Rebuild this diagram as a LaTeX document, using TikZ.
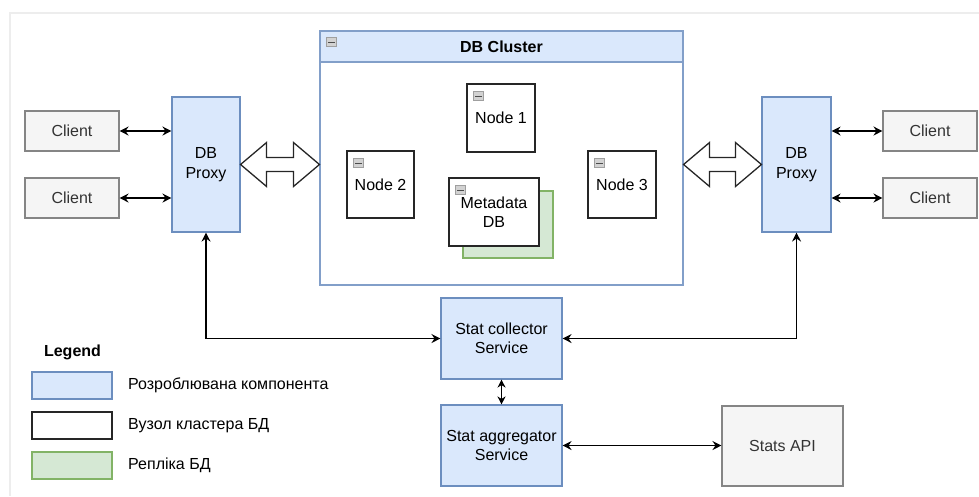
\documentclass[tikz,border=0pt]{standalone}
\usepackage{fontspec}
\setmainfont{Liberation Sans}
\usetikzlibrary{arrows.meta,positioning,calc}
\definecolor{bluefill}{HTML}{DAE8FC}
\definecolor{bluedraw}{HTML}{6C8EBF}
\definecolor{grayfill}{HTML}{F5F5F5}
\definecolor{graydraw}{HTML}{666666}
\definecolor{greenfill}{HTML}{D5E8D4}
\definecolor{greendraw}{HTML}{82B366}
\definecolor{txtgray}{HTML}{333333}
\definecolor{framegray}{HTML}{EDEDED}
\begin{document}
\begin{tikzpicture}[x=1pt,y=-1pt,
  every node/.style={font=\fontsize{16}{19.5}\selectfont, inner sep=0pt, align=center},
  box/.style={rectangle, line width=1.1pt},
  bluebox/.style={box, draw=bluedraw, fill=bluefill},
  graybox/.style={box, draw=graydraw!80, fill=grayfill, text=txtgray},
  nodebox/.style={box, draw=black!85, fill=white, line width=1.3pt},
  greenbox/.style={box, draw=greendraw, fill=greenfill},
  conn/.style={line width=1.3pt, {Stealth[length=9pt,width=9pt,inset=3pt]}-{Stealth[length=9pt,width=9pt,inset=3pt]}},
  shortconn/.style={line width=1.3pt, {Stealth[length=8pt,width=8pt,inset=2.5pt]}-{Stealth[length=8pt,width=8pt,inset=2.5pt]}},
  hollow/.style={draw=black!85, fill=white, line width=1.3pt, line join=miter},
  icon/.style={draw=gray!75, fill=gray!35, line width=0.6pt, minimum width=10pt, minimum height=9pt},
]
\useasboundingbox (0,0) rectangle (979,496);
% screenshot frame
\draw[framegray, line width=1.2pt] (10,496) -- (10,13) -- (979,13);

% clients
\node[graybox, minimum width=94pt, minimum height=40pt] (c1L) at (72,131) {Client};
\node[graybox, minimum width=94pt, minimum height=40pt] (c2L) at (72,198) {Client};
\node[graybox, minimum width=94pt, minimum height=40pt] (c1R) at (930,131) {Client};
\node[graybox, minimum width=94pt, minimum height=40pt] (c2R) at (930,198) {Client};

% proxies
\node[bluebox, minimum width=68pt, minimum height=135pt] (pL) at (206,164.5) {DB\\Proxy};
\node[bluebox, minimum width=69pt, minimum height=135pt] (pR) at (796.5,164.5) {DB\\Proxy};

% cluster
\node[box, draw=bluedraw!85, fill=white, minimum width=363pt, minimum height=254pt] (cl) at (501.5,158) {};
\node[box, draw=bluedraw!85, fill=bluefill, minimum width=363pt, minimum height=31pt, anchor=north, font=\fontsize{16}{19.5}\selectfont\bfseries] (clh) at (cl.north) {DB Cluster};
\node[icon, anchor=north west] (iclh) at ($(clh.north west)+(7,7)$) {};
\draw[black!70, line width=1pt] ($(iclh.west)+(2,0)$) -- ($(iclh.east)+(-2,0)$);

\node[nodebox, minimum width=68pt, minimum height=68pt] (n1) at (501,118) {Node 1};
\node[nodebox, minimum width=67pt, minimum height=67pt] (n2) at (380.5,184.5) {Node 2};
\node[nodebox, minimum width=68pt, minimum height=67pt] (n3) at (622,184.5) {Node 3};
\node[greenbox, minimum width=90pt, minimum height=67pt] (sh) at (508,224.5) {};
\node[nodebox, minimum width=90pt, minimum height=68pt] (md) at (494,212) {Metadata\\DB};

\foreach \n in {n1,n2,n3,md}{
  \node[icon, anchor=north west] (i\n) at ($(\n.north west)+(7,8)$) {};
  \draw[black!70, line width=1pt] ($(i\n.west)+(2,0)$) -- ($(i\n.east)+(-2,0)$);
}

% hollow double arrows
\coordinate (hl) at (pL.east);
\coordinate (hr) at (cl.west |- pL.east);
\draw[hollow] (hl) -- ++(26,-22) -- ++(0,15) -- ($(hr)+(-26,-7)$) -- ++(0,-15) -- (hr)
  -- ++(-26,22) -- ++(0,-15) -- ($(hl)+(26,7)$) -- ++(0,15) -- cycle;
\coordinate (hl2) at (cl.east |- pR.west);
\coordinate (hr2) at (pR.west);
\draw[hollow] (hl2) -- ++(26,-22) -- ++(0,15) -- ($(hr2)+(-26,-7)$) -- ++(0,-15) -- (hr2)
  -- ++(-26,22) -- ++(0,-15) -- ($(hl2)+(26,7)$) -- ++(0,15) -- cycle;

% services
\node[bluebox, minimum width=121pt, minimum height=81pt] (sc) at (501.5,338.5) {Stat collector\\Service};
\node[bluebox, minimum width=121pt, minimum height=81pt] (sa) at (501.5,445.5) {Stat aggregator\\Service};
\node[graybox, minimum width=121pt, minimum height=80pt] (api) at (782.5,446) {Stats API};

% connectors
\draw[conn] (c1L.east) -- (c1L.east -| pL.west);
\draw[conn] (c2L.east) -- (c2L.east -| pL.west);
\draw[conn] (c1R.west) -- (c1R.west -| pR.east);
\draw[conn] (c2R.west) -- (c2R.west -| pR.east);
\draw[conn] (pL.south) |- (sc.west);
\draw[conn] (pR.south) |- (sc.east);
\draw[shortconn] (sc.south) -- (sa.north);
\draw[conn] (sa.east) -- (sa.east -| api.west);

% legend
\node[font=\fontsize{16}{19.5}\selectfont\bfseries] (lgt) at (72.5,352) {Legend};
\node[bluebox, minimum width=80pt, minimum height=27pt] (lg1) at (72,385.5) {};
\node[nodebox, minimum width=80pt, minimum height=27pt] (lg2) at (72,425.5) {};
\node[greenbox, minimum width=80pt, minimum height=27pt] (lg3) at (72,465.5) {};
\node[anchor=west] (lt1) at (128,385.5) {Розроблювана компонента};
\node[anchor=west] (lt2) at (128,425.5) {Вузол кластера БД};
\node[anchor=west] (lt3) at (128,465.5) {Репліка БД};
\end{tikzpicture}
\end{document}
